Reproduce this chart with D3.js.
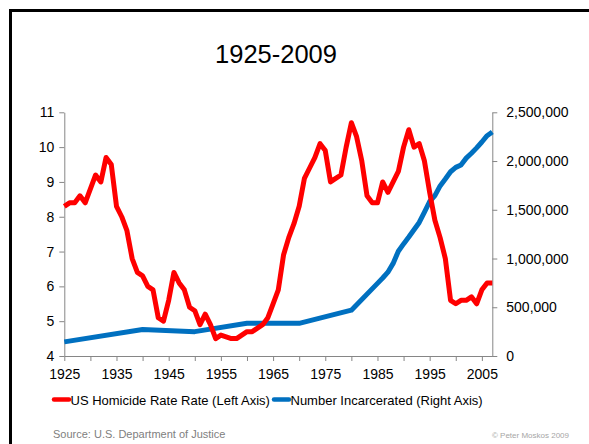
<!DOCTYPE html>
<html>
<head>
<meta charset="utf-8">
<title>Homicide rate and incarceration 1925-2009</title>
<script src="https://cdn.jsdelivr.net/npm/d3@7"></script>
<style>
  body { margin: 0; background: #fff; }
  text { font-family: "Liberation Sans", Arial, sans-serif; }
</style>
</head>
<body>
<svg id="chart" width="589" height="444"></svg>
<script>
'use strict';

// homicide rate per 100,000, one value per year 1925-2007
const homicideYears = d3.range(1925, 2008);
const homicideRate = [
  8.3, 8.4, 8.4, 8.6, 8.4, 8.8, 9.2, 9.0, 9.7, 9.5,   // 1925-1934
  8.3, 8.0, 7.6, 6.8, 6.4, 6.3, 6.0, 5.9, 5.1, 5.0,   // 1935-1944
  5.6, 6.4, 6.1, 5.9, 5.4, 5.3, 4.9, 5.2, 4.9, 4.5,   // 1945-1954
  4.6, 4.55, 4.5, 4.5, 4.6, 4.7, 4.7, 4.8, 4.9, 5.1,  // 1955-1964
  5.5, 5.9, 6.9, 7.4, 7.8, 8.3, 9.1, 9.4, 9.7, 10.1,  // 1965-1974
  9.9, 9.0, 9.1, 9.2, 10.0, 10.7, 10.3, 9.6, 8.6, 8.4, // 1975-1984
  8.4, 9.0, 8.7, 9.0, 9.3, 10.0, 10.5, 10.0, 10.1, 9.6, // 1985-1994
  8.7, 7.9, 7.4, 6.8, 5.6, 5.5, 5.6, 5.6, 5.7, 5.5,   // 1995-2004
  5.9, 6.1, 6.1                                       // 2005-2007
];

// number incarcerated (prisons + jails)
const prisonYears = [1925, 1940, 1950, 1960, 1970, 1980,
  1985, 1986, 1987, 1988, 1989, 1990, 1991, 1992, 1993, 1994, 1995, 1996,
  1997, 1998, 1999, 2000, 2001, 2002, 2003, 2004, 2005, 2006, 2007];
const prisonCount = [145000, 272000, 250000, 335000, 335000, 470000,
  745000, 800000, 860000, 950000, 1075000, 1150000, 1220000, 1295000,
  1370000, 1475000, 1585000, 1645000, 1745000, 1815000, 1890000, 1935000,
  1960000, 2030000, 2080000, 2135000, 2195000, 2260000, 2298000];

const leftTicks = [4, 5, 6, 7, 8, 9, 10, 11];
const rightTicks = [0, 500000, 1000000, 1500000, 2000000, 2500000];
const xLabelYears = d3.range(1925, 2006, 10);

const svg = d3.select('#chart');
const plotLeft = 64.3, plotRight = 492.3, plotTop = 112.3, plotBottom = 356;

const x = d3.scaleLinear().domain([1925, 2007]).range([plotLeft, plotRight]);
const yL = d3.scaleLinear().domain([4, 11]).range([plotBottom, plotTop]);
const yR = d3.scaleLinear().domain([0, 2500000]).range([plotBottom, plotTop]);

// frame
svg.append('path')
  .attr('d', 'M10.5,600 V10.5 H620')
  .attr('fill', 'none')
  .attr('stroke', '#000')
  .attr('stroke-width', 3);

// title
svg.append('text')
  .attr('x', 276).attr('y', 63)
  .attr('text-anchor', 'middle')
  .attr('font-size', 25.5)
  .text('1925-2009');

const axisColor = '#868686';

function styleAxis(g) {
  g.select('.domain').attr('stroke', axisColor);
  g.selectAll('.tick line').attr('stroke', axisColor);
  g.selectAll('.tick text').attr('fill', '#000').attr('font-size', 14)
    .attr('font-family', '"Liberation Sans", Arial, sans-serif');
}

// left axis
svg.append('g')
  .attr('transform', `translate(${plotLeft},0)`)
  .call(d3.axisLeft(yL).tickValues(leftTicks).tickSize(5).tickSizeOuter(0)
    .tickPadding(5).tickFormat(d3.format('d')))
  .call(styleAxis);

// right axis
svg.append('g')
  .attr('transform', `translate(${plotRight},0)`)
  .call(d3.axisRight(yR).tickValues(rightTicks).tickSize(5).tickSizeOuter(0)
    .tickPadding(9).tickFormat(d3.format(',')))
  .call(styleAxis);

// bottom axis: ticks every 5 years, labels every 10
svg.append('g')
  .attr('transform', `translate(0,${plotBottom})`)
  .call(d3.axisBottom(x).tickValues(d3.range(1925, 2008, 5)).tickSize(5).tickSizeOuter(0)
    .tickPadding(8)
    .tickFormat(d => xLabelYears.includes(d) ? String(d) : ''))
  .call(styleAxis);

// lines
const homicideData = homicideYears.map((yr, i) => ({ yr, v: homicideRate[i] }));
const prisonData = prisonYears.map((yr, i) => ({ yr, v: prisonCount[i] }));

svg.append('path')
  .datum(prisonData)
  .attr('fill', 'none')
  .attr('stroke', '#0070C0')
  .attr('stroke-width', 5)
  .attr('stroke-linejoin', 'round')
  .attr('d', d3.line().x(d => x(d.yr)).y(d => yR(d.v)));

svg.append('path')
  .datum(homicideData)
  .attr('fill', 'none')
  .attr('stroke', '#FF0000')
  .attr('stroke-width', 5)
  .attr('stroke-linejoin', 'round')
  .attr('d', d3.line().x(d => x(d.yr)).y(d => yL(d.v)));

// legend
const legendItems = [
  { label: 'US Homicide Rate Rate (Left Axis)', color: '#FF0000', x: 54 },
  { label: 'Number Incarcerated (Right Axis)', color: '#0070C0', x: 274 }
];
const legend = svg.append('g');
legendItems.forEach(item => {
  legend.append('line')
    .attr('x1', item.x).attr('x2', item.x + 15)
    .attr('y1', 399.5).attr('y2', 399.5)
    .attr('stroke', item.color)
    .attr('stroke-width', 4.5)
    .attr('stroke-linecap', 'round');
  legend.append('text')
    .attr('x', item.x + 16.5).attr('y', 404.5)
    .attr('font-size', 13)
    .text(item.label);
});

// source and credit
svg.append('text')
  .attr('x', 53).attr('y', 438)
  .attr('font-size', 11)
  .attr('fill', '#808080')
  .text('Source: U.S. Department of Justice');

svg.append('text')
  .attr('x', 569).attr('y', 438)
  .attr('text-anchor', 'end')
  .attr('font-size', 8)
  .attr('fill', '#a6a6a6')
  .text('© Peter Moskos 2009');
</script>
</body>
</html>
